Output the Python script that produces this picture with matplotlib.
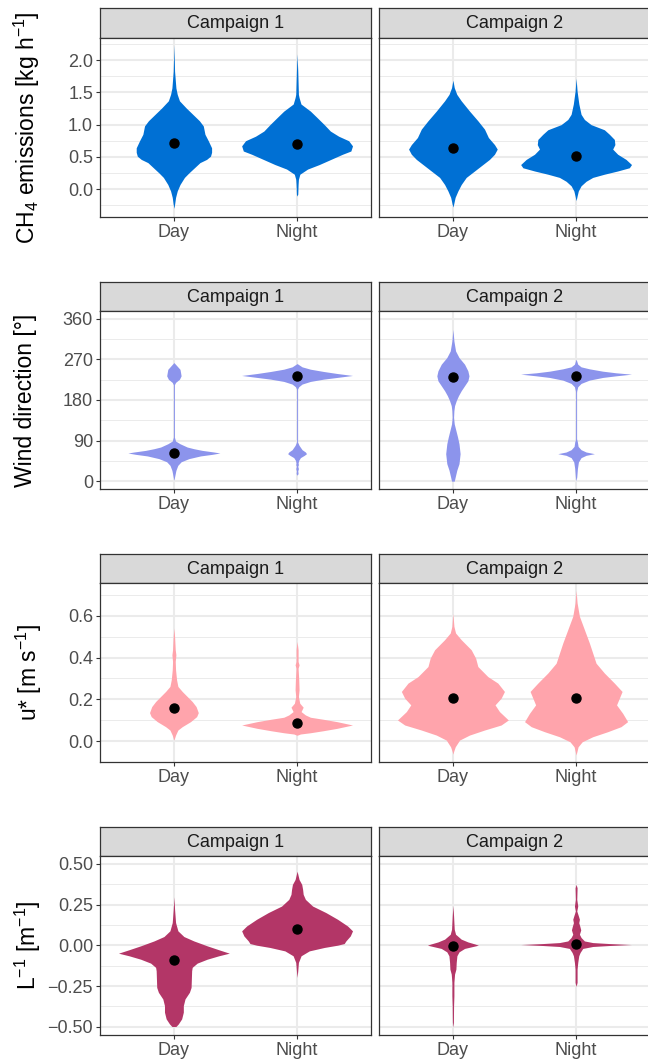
import matplotlib
matplotlib.use("Agg")
import matplotlib.pyplot as plt
from matplotlib import font_manager

plt.rcParams['font.family'] = ['Liberation Sans', 'DejaVu Sans']
plt.rcParams['mathtext.fontset'] = 'custom'
plt.rcParams['mathtext.rm'] = 'Liberation Sans'
plt.rcParams['mathtext.it'] = 'Liberation Sans:italic'
plt.rcParams['mathtext.bf'] = 'Liberation Sans:bold'

_names = {f.name for f in font_manager.fontManager.ttflist}
if 'Liberation Sans Narrow' in _names:
    small_family = ['Liberation Sans Narrow', 'DejaVu Sans']
    small_size = 14.5
else:
    small_family = ['Liberation Sans', 'DejaVu Sans']
    small_size = 13

# ---------------- data ----------------
categories = ["Day", "Night"]
campaigns = ["Campaign 1", "Campaign 2"]

# Row 1: CH4 emissions (violin outline: y value, relative density width)
ch4_c1_day_y = [2.24, 1.83, 1.57, 1.47, 1.37, 1.26, 1.16, 1.06, 0.98, 0.85, 0.75, 0.64, 0.57, 0.51, 0.46, 0.41, 0.33, 0.25, 0.18, 0.07, -0.03, -0.13, -0.24, -0.30]
ch4_c1_day_w = [0.0, 0.012, 0.036, 0.06, 0.10, 0.22, 0.34, 0.46, 0.53, 0.56, 0.62, 0.68, 0.68, 0.66, 0.59, 0.47, 0.37, 0.27, 0.19, 0.11, 0.06, 0.03, 0.012, 0.0]
ch4_c1_night_y = [2.10, 1.83, 1.47, 1.42, 1.32, 1.21, 1.11, 1.00, 0.90, 0.82, 0.75, 0.67, 0.59, 0.54, 0.46, 0.38, 0.31, 0.23, 0.15, 0.07, -0.08, -0.11]
ch4_c1_night_w = [0.0, 0.012, 0.024, 0.036, 0.07, 0.24, 0.36, 0.49, 0.60, 0.75, 0.93, 1.0, 0.97, 0.82, 0.61, 0.40, 0.19, 0.05, 0.024, 0.018, 0.012, 0.0]
ch4_c2_day_y = [1.69, 1.575, 1.47, 1.37, 1.21, 1.06, 0.93, 0.80, 0.69, 0.62, 0.54, 0.46, 0.38, 0.28, 0.18, 0.07, -0.03, -0.13, -0.24, -0.28]
ch4_c2_day_w = [0.0, 0.024, 0.07, 0.15, 0.30, 0.45, 0.57, 0.64, 0.75, 0.80, 0.75, 0.66, 0.54, 0.39, 0.24, 0.15, 0.09, 0.04, 0.012, 0.0]
ch4_c2_night_y = [1.72, 1.52, 1.32, 1.16, 1.08, 1.00, 0.92, 0.85, 0.77, 0.69, 0.62, 0.54, 0.46, 0.38, 0.33, 0.28, 0.23, 0.18, 0.12, 0.05, -0.03, -0.11, -0.18]
ch4_c2_night_w = [0.0, 0.018, 0.05, 0.09, 0.15, 0.27, 0.51, 0.60, 0.69, 0.70, 0.66, 0.75, 0.90, 1.0, 0.96, 0.75, 0.51, 0.30, 0.18, 0.09, 0.04, 0.018, 0.0]
ch4_means = [[0.72, 0.70], [0.64, 0.51]]

# Row 2: wind direction
wd_c1_day_y = [263, 259, 253.5, 248, 241, 233.6, 226, 219, 214, 97.7, 89, 83, 75.7, 72, 68.3, 64.7, 62.5, 59.5, 56, 50, 43, 35, 24, 13, 2]
wd_c1_day_w = [0.0, 0.03, 0.07, 0.11, 0.12, 0.13, 0.10, 0.03, 0.009, 0.009, 0.03, 0.11, 0.24, 0.36, 0.51, 0.72, 0.83, 0.69, 0.48, 0.27, 0.13, 0.07, 0.036, 0.018, 0.0]
wd_c1_night_y = [260.8, 253.5, 248.3, 243.2, 238.8, 234.4, 230, 226.3, 221.2, 215.3, 209.4, 204.3, 86.7, 79.4, 69.8, 64.7, 61, 57.3, 52.2, 46.3, 40.4, 36.7, 33, 27.9, 22.8, 16.9, 13.2]
wd_c1_night_w = [0.0, 0.09, 0.24, 0.48, 0.72, 1.0, 0.72, 0.48, 0.24, 0.09, 0.03, 0.009, 0.009, 0.036, 0.09, 0.15, 0.17, 0.13, 0.06, 0.03, 0.018, 0.024, 0.012, 0.024, 0.012, 0.018, 0.0]
wd_c2_day_y = [336.5, 310.8, 288.8, 274.1, 259.4, 244.7, 233.6, 222.6, 211.6, 200.6, 189.6, 178.5, 167.5, 156.5, 141.8, 127.1, 112.4, 97.7, 83, 61, 38.9, 24.2, 9.6, 0.0]
wd_c2_day_w = [0.0, 0.018, 0.048, 0.11, 0.21, 0.27, 0.29, 0.27, 0.21, 0.15, 0.10, 0.06, 0.03, 0.018, 0.012, 0.024, 0.054, 0.084, 0.11, 0.13, 0.11, 0.07, 0.042, 0.024]
wd_c2_night_y = [270.4, 259.4, 253.5, 249.1, 243.9, 240.3, 237.3, 233.6, 230, 224.1, 216.8, 209.4, 200.6, 196.9, 94, 86.7, 77.1, 69.8, 64.7, 61, 57.3, 52.2, 42.6, 27.9, 9.6, 0.7]
wd_c2_night_w = [0.0, 0.03, 0.09, 0.24, 0.48, 0.72, 1.0, 0.72, 0.48, 0.24, 0.09, 0.03, 0.012, 0.009, 0.009, 0.024, 0.036, 0.09, 0.18, 0.33, 0.18, 0.09, 0.042, 0.024, 0.012, 0.0]
wd_means = [[63.2, 233.6], [231.4, 233.6]]

# Row 3: friction velocity u*
ustar_c1_day_y = [0.541, 0.501, 0.437, 0.413, 0.381, 0.341, 0.294, 0.262, 0.238, 0.214, 0.190, 0.166, 0.137, 0.118, 0.094, 0.070, 0.054, 0.030, 0.006]
ustar_c1_day_w = [0.0, 0.012, 0.024, 0.036, 0.024, 0.03, 0.048, 0.072, 0.15, 0.24, 0.33, 0.40, 0.44, 0.41, 0.30, 0.15, 0.072, 0.03, 0.0]
ustar_c1_night_y = [0.477, 0.437, 0.381, 0.365, 0.349, 0.294, 0.246, 0.214, 0.182, 0.163, 0.142, 0.126, 0.115, 0.105, 0.094, 0.078, 0.062, 0.051, 0.041, 0.035, 0.029]
ustar_c1_night_w = [0.0, 0.018, 0.018, 0.036, 0.018, 0.03, 0.036, 0.024, 0.048, 0.11, 0.072, 0.15, 0.24, 0.48, 0.72, 1.0, 0.72, 0.48, 0.24, 0.06, 0.0]
ustar_c2_day_y = [0.610, 0.549, 0.517, 0.485, 0.437, 0.397, 0.357, 0.309, 0.278, 0.238, 0.206, 0.174, 0.142, 0.102, 0.078, 0.054, 0.030, 0.006, -0.026, -0.049, -0.061]
ustar_c2_day_w = [0.0, 0.018, 0.048, 0.15, 0.33, 0.41, 0.45, 0.63, 0.81, 0.93, 0.87, 0.76, 0.84, 1.0, 0.87, 0.57, 0.30, 0.12, 0.042, 0.012, 0.0]
ustar_c2_night_y = [0.721, 0.661, 0.597, 0.533, 0.469, 0.421, 0.373, 0.326, 0.278, 0.238, 0.206, 0.174, 0.134, 0.094, 0.070, 0.046, 0.022, -0.002, -0.026, -0.065]
ustar_c2_night_w = [0.0, 0.018, 0.06, 0.15, 0.24, 0.30, 0.36, 0.51, 0.69, 0.83, 0.78, 0.73, 0.84, 0.93, 0.81, 0.57, 0.30, 0.11, 0.036, 0.0]
ustar_means = [[0.161, 0.086], [0.209, 0.209]]

# Row 4: inverse Obukhov length
linv_c1_day_y = [0.298, 0.221, 0.140, 0.089, 0.054, 0.027, -0.003, -0.027, -0.048, -0.064, -0.085, -0.109, -0.135, -0.156, -0.258, -0.288, -0.329, -0.370, -0.410, -0.451, -0.482, -0.498]
linv_c1_day_w = [0.0, 0.012, 0.03, 0.072, 0.18, 0.36, 0.60, 0.81, 1.0, 0.81, 0.60, 0.42, 0.33, 0.32, 0.31, 0.28, 0.20, 0.17, 0.17, 0.14, 0.08, 0.036]
linv_c1_night_y = [0.455, 0.404, 0.374, 0.343, 0.313, 0.282, 0.241, 0.201, 0.160, 0.119, 0.089, 0.058, 0.027, 0.011, 0.001, -0.013, -0.034, -0.064, -0.105, -0.156, -0.197]
linv_c1_night_w = [0.0, 0.036, 0.084, 0.10, 0.11, 0.15, 0.28, 0.52, 0.73, 0.91, 1.0, 0.96, 0.88, 0.85, 0.73, 0.49, 0.22, 0.072, 0.024, 0.012, 0.0]
linv_c2_day_y = [0.245, 0.180, 0.099, 0.068, 0.038, 0.021, 0.009, 0.001, -0.007, -0.019, -0.040, -0.064, -0.105, -0.146, -0.176, -0.227, -0.309, -0.370, -0.471, -0.502]
linv_c2_day_w = [0.0, 0.012, 0.024, 0.048, 0.15, 0.27, 0.39, 0.46, 0.36, 0.21, 0.11, 0.072, 0.06, 0.054, 0.03, 0.018, 0.018, 0.012, 0.009, 0.0]
linv_c2_night_y = [0.374, 0.353, 0.282, 0.241, 0.211, 0.180, 0.160, 0.139, 0.119, 0.095, 0.068, 0.048, 0.027, 0.017, 0.011, 0.005, -0.001, -0.007, -0.019, -0.044, -0.064, -0.105, -0.146, -0.227, -0.252]
linv_c2_night_w = [0.0, 0.018, 0.012, 0.03, 0.012, 0.042, 0.06, 0.048, 0.066, 0.084, 0.06, 0.09, 0.15, 0.30, 0.60, 1.0, 0.60, 0.30, 0.12, 0.072, 0.048, 0.03, 0.018, 0.018, 0.0]
linv_means = [[-0.089, 0.099], [-0.003, 0.011]]

ylabels = [r'CH$_4$ emissions [kg h$^{-1}$]', 'Wind direction [°]',
           r'u* [m s$^{-1}$]', r'L$^{-1}$ [m$^{-1}$]']
ch4_ticks = [0.0, 0.5, 1.0, 1.5, 2.0]
ch4_ticklabels = ["0.0", "0.5", "1.0", "1.5", "2.0"]
wd_ticks = [0, 90, 180, 270, 360]
wd_ticklabels = ["0", "90", "180", "270", "360"]
ustar_ticks = [0.0, 0.2, 0.4, 0.6]
ustar_ticklabels = ["0.0", "0.2", "0.4", "0.6"]
linv_ticks = [-0.50, -0.25, 0.00, 0.25, 0.50]
linv_ticklabels = ["\u22120.50", "\u22120.25", "0.00", "0.25", "0.50"]

# ---------------- layout / style ----------------
W, H = 648, 1059
fig = plt.figure(figsize=(W / 100, H / 100), dpi=100)


def box(x0, y0, x1, y1):
    return [x0 / W, 1 - y1 / H, (x1 - x0) / W, (y1 - y0) / H]


col_x = [(100, 371), (379, 650)]
row_y = [(8.3, 37.7, 216.7), (281.7, 310.7, 489.3), (554, 582.7, 762.3), (827.3, 855.7, 1035)]
title_x = [27, 26, 29, 28]

rows = [
    dict(ylim=(-0.43, 2.35), ticks=ch4_ticks, labels=ch4_ticklabels, color='#0070D4',
         v=[[(ch4_c1_day_y, ch4_c1_day_w), (ch4_c1_night_y, ch4_c1_night_w)],
            [(ch4_c2_day_y, ch4_c2_day_w), (ch4_c2_night_y, ch4_c2_night_w)]], means=ch4_means),
    dict(ylim=(-18, 378), ticks=wd_ticks, labels=wd_ticklabels, color='#8C94EC',
         v=[[(wd_c1_day_y, wd_c1_day_w), (wd_c1_night_y, wd_c1_night_w)],
            [(wd_c2_day_y, wd_c2_day_w), (wd_c2_night_y, wd_c2_night_w)]], means=wd_means),
    dict(ylim=(-0.1, 0.757), ticks=ustar_ticks, labels=ustar_ticklabels, color='#FFA4AC',
         v=[[(ustar_c1_day_y, ustar_c1_day_w), (ustar_c1_night_y, ustar_c1_night_w)],
            [(ustar_c2_day_y, ustar_c2_day_w), (ustar_c2_night_y, ustar_c2_night_w)]], means=ustar_means),
    dict(ylim=(-0.55, 0.55), ticks=linv_ticks, labels=linv_ticklabels, color='#B33667',
         v=[[(linv_c1_day_y, linv_c1_day_w), (linv_c1_night_y, linv_c1_night_w)],
            [(linv_c2_day_y, linv_c2_day_w), (linv_c2_night_y, linv_c2_night_w)]], means=linv_means),
]

border = '#333333'
grid_c = '#EBEBEB'
half_width = 0.45

for r, row in enumerate(rows):
    st, pt, pb = row_y[r]
    ticks = row['ticks']
    minor = [(a + b) / 2 for a, b in zip(ticks[:-1], ticks[1:])]
    step = ticks[1] - ticks[0]
    minor = [ticks[0] - step / 2] + minor + [ticks[-1] + step / 2]
    for c in range(2):
        x0, x1 = col_x[c]
        sax = fig.add_axes(box(x0, st, x1, pt))
        sax.set_facecolor('#D9D9D9')
        sax.set_xticks([]); sax.set_yticks([])
        for s in sax.spines.values():
            s.set_color(border); s.set_linewidth(0.9)
        sax.text(0.5, 0.47, campaigns[c], ha='center', va='center', fontsize=small_size,
                 family=small_family, color='#1A1A1A', transform=sax.transAxes)

        ax = fig.add_axes(box(x0, pt, x1, pb))
        ax.set_xlim(0.4, 2.6)
        ax.set_ylim(*row['ylim'])
        for yv in minor:
            ax.axhline(yv, color=grid_c, lw=0.7, zorder=0)
        for yv in ticks:
            ax.axhline(yv, color=grid_c, lw=1.5, zorder=0)
        for xv in (1, 2):
            ax.axvline(xv, color=grid_c, lw=1.5, zorder=0)
        for k in range(2):
            yy, ww = row['v'][c][k]
            xc = k + 1
            ax.fill_betweenx(yy, [xc - half_width * w for w in ww], [xc + half_width * w for w in ww],
                             color=row['color'], lw=0, zorder=2)
            ax.plot([xc], [row['means'][c][k]], 'o', color='black', ms=6.5, zorder=3)
        for s in ax.spines.values():
            s.set_color(border); s.set_linewidth(0.9)
        ax.set_xticks([1, 2])
        ax.set_xticklabels(categories, family=small_family)
        ax.set_yticks(ticks)
        ax.tick_params(axis='both', length=3, width=0.8, color=border, labelsize=small_size,
                       labelcolor='#4D4D4D', pad=2)
        if c == 0:
            ax.set_yticklabels(row['labels'], family=small_family)
        else:
            ax.tick_params(axis='y', length=0, labelleft=False)
    fig.text(title_x[r] / W, 1 - ((pt + pb) / 2) / H, ylabels[r], rotation=90,
             ha='center', va='center', fontsize=16.5, color='black')

fig.savefig('out.png', dpi=100)
